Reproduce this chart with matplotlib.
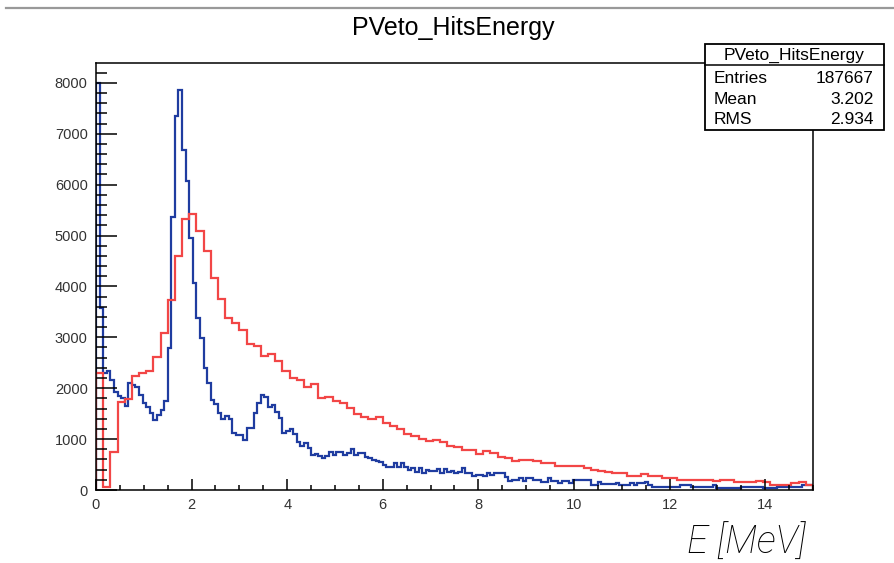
import numpy as np
import matplotlib.pyplot as plt
from matplotlib.patches import Rectangle
from matplotlib.lines import Line2D
from matplotlib.ticker import MultipleLocator

plt.rcParams['font.family'] = ['Liberation Sans', 'DejaVu Sans']

# histogram contents (counts per bin)
# blue: 200 bins over 0-15 MeV
blue_counts = [
    7990, 3580, 2290, 2330, 2160, 1930, 1850, 1810, 1650, 2100,
    2060, 2030, 1870, 1700, 1640, 1510, 1380, 1470, 1570, 1755,
    2790, 5370, 7350, 7860, 6680, 6080, 4950, 4075, 3375, 2980,
    2390, 2100, 1770, 1690, 1505, 1390, 1455, 1390, 1115, 1080,
    1080, 985, 1225, 1225, 1505, 1705, 1865, 1820, 1625, 1670,
    1540, 1420, 1125, 1165, 1190, 1100, 950, 870, 915, 820,
    690, 705, 670, 620, 660, 750, 680, 750, 750, 690,
    720, 815, 690, 735, 720, 655, 620, 590, 560, 555,
    490, 460, 445, 525, 445, 535, 460, 395, 425, 360,
    425, 340, 395, 375, 380, 405, 330, 405, 360, 380,
    330, 360, 425, 330, 330, 275, 295, 295, 275, 330,
    295, 325, 325, 325, 260, 185, 195, 195, 230, 185,
    230, 230, 195, 195, 165, 165, 230, 185, 185, 145,
    185, 185, 145, 196, 196, 196, 196, 196, 98, 98,
    157, 118, 118, 118, 118, 144, 98, 98, 98, 130,
    98, 130, 144, 164, 98, 65, 65, 65, 65, 65,
    65, 65, 65, 98, 98, 98, 65, 65, 65, 65,
    65, 65, 98, 40, 35, 35, 35, 35, 35, 35,
    65, 65, 65, 65, 65, 65, 40, 40, 40, 40,
    65, 65, 65, 50, 65, 65, 65, 98, 98, 98,
]
# red: 100 bins over 0-15 MeV
red_counts = [
    2290, 60, 750, 1730, 1785, 2240, 2300, 2340, 2620, 3085,
    3730, 4590, 5330, 5430, 5090, 4700, 4170, 3760, 3370, 3275,
    3145, 2865, 2830, 2635, 2675, 2535, 2340, 2210, 2165, 2030,
    2080, 1800, 1830, 1750, 1705, 1620, 1490, 1425, 1390, 1440,
    1325, 1250, 1195, 1100, 1070, 1010, 955, 990, 940, 870,
    845, 795, 790, 705, 760, 730, 640, 635, 565, 592,
    590, 565, 535, 525, 480, 470, 470, 480, 430, 400,
    375, 345, 330, 330, 275, 275, 310, 270, 270, 240,
    240, 195, 195, 195, 195, 195, 170, 205, 190, 150,
    150, 150, 170, 148, 108, 108, 108, 130, 150, 105,
]

e_min, e_max = 0.0, 15.0
hist_name = "PVeto_HitsEnergy"
stats_labels = ["Entries", "Mean", "RMS"]
stats_values = ["187667", "3.202", "2.934"]

blue_edges = np.linspace(e_min, e_max, len(blue_counts) + 1)
red_edges = np.linspace(e_min, e_max, len(red_counts) + 1)

W, H = 895, 563
fig = plt.figure(figsize=(W / 100, H / 100), dpi=100)
fig.patch.set_facecolor('white')

# axes frame in pixel coords: x 96..813, y 63..490
ax = fig.add_axes([96 / W, 1 - 490 / H, (813 - 96) / W, (490 - 63) / H])

ax.stairs(blue_counts, blue_edges, color='#1f3ca0', lw=1.6, baseline=0)
ax.stairs(red_counts, red_edges, color='#f24646', lw=1.6, baseline=0)

ax.set_xlim(e_min, e_max)
ax.set_ylim(0, max(blue_counts) * 1.05)

for s in ax.spines.values():
    s.set_linewidth(1.1)
    s.set_color('black')

ax.xaxis.set_major_locator(MultipleLocator(2))
ax.xaxis.set_minor_locator(MultipleLocator(0.5))
ax.yaxis.set_major_locator(MultipleLocator(1000))
ax.yaxis.set_minor_locator(MultipleLocator(200))
ax.tick_params(axis='x', which='major', direction='in', length=8, width=1.1,
               labelsize=10.5, labelcolor='#333333', pad=6)
ax.tick_params(axis='x', which='minor', direction='in', length=3.5, width=1.1)
ax.tick_params(axis='y', which='major', direction='in', length=15, width=1.1,
               labelsize=10.5, labelcolor='#333333', pad=6)
ax.tick_params(axis='y', which='minor', direction='in', length=8, width=1.1)

# grey rule at the very top of the image
fig.add_artist(Line2D([6 / W, 1.0], [1 - 8 / H, 1 - 8 / H], color='#999999', lw=1.6,
                      transform=fig.transFigure))

fig.text(453 / W, 1 - 28 / H, hist_name, ha='center', va='center', fontsize=18)

# stats box
bx0, bx1, by0, by1, bhead = 705, 884, 44, 130, 65
fig.add_artist(Rectangle((bx0 / W, 1 - by1 / H), (bx1 - bx0) / W, (by1 - by0) / H,
                         transform=fig.transFigure, facecolor='white', edgecolor='black',
                         lw=1.3, zorder=5))
fig.add_artist(Line2D([bx0 / W, bx1 / W], [1 - bhead / H, 1 - bhead / H], color='black',
                      lw=1.1, transform=fig.transFigure, zorder=6))
fig.text((bx0 + bx1) / 2 / W, 1 - 55 / H, hist_name, ha='center', va='center',
         fontsize=12.5, zorder=7)
for i, (lab, val) in enumerate(zip(stats_labels, stats_values)):
    yy = 1 - (78.5 + 20.5 * i) / H
    fig.text(714 / W, yy, lab, ha='left', va='center', fontsize=12.5, zorder=7)
    fig.text(874 / W, yy, val, ha='right', va='center', fontsize=12.5, zorder=7)

fig.text(806 / W, 1 - 543 / H, "E [MeV]", ha='right', va='center', fontsize=27.5,
         style='italic', family=['Roboto', 'Liberation Sans'], fontweight='light')

fig.savefig('out.png', dpi=100)
